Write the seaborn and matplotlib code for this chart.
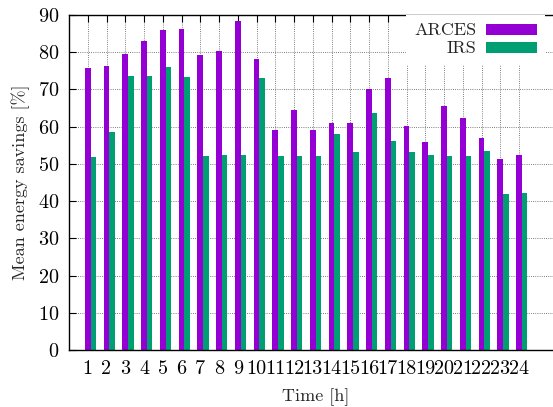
import matplotlib
matplotlib.use("Agg")
import matplotlib.pyplot as plt
import matplotlib.patches as mpatches
import seaborn as sns
import pandas as pd

hours = [str(h) for h in range(1, 25)]
arces = [75.7, 76.4, 79.5, 83.1, 85.9, 86.3, 79.2, 80.2, 88.5, 78.3, 59.0, 64.4,
         59.0, 60.9, 60.9, 70.2, 73.0, 60.2, 55.8, 65.6, 62.4, 56.9, 51.3, 52.5]
irs = [51.8, 58.7, 73.5, 73.6, 76.1, 73.4, 52.1, 52.3, 52.3, 73.1, 52.1, 52.1,
       52.0, 58.0, 53.3, 63.6, 56.1, 53.1, 52.5, 52.1, 52.1, 53.4, 41.9, 42.2]
series = ["ARCES", "IRS"]
colors = ["#9400D3", "#009E73"]
y_ticks = list(range(0, 91, 10))

df = pd.DataFrame({
    "hour": hours * 2,
    "value": arces + irs,
    "series": [series[0]] * len(hours) + [series[1]] * len(hours),
})

sns.set_style("ticks")
plt.rcParams["font.family"] = ["cmr10", "DejaVu Serif"]
plt.rcParams["axes.formatter.use_mathtext"] = True
plt.rcParams["font.size"] = 13

W, H = 553, 407
fig = plt.figure(figsize=(W / 100, H / 100), dpi=100)
ax = fig.add_axes([69 / W, (H - 350) / H, (562 - 69) / W, (350 - 15) / H])

bar_w = 0.6
sns.barplot(data=df, x="hour", y="value", hue="series", hue_order=series,
            palette=colors, saturation=1, width=bar_w, gap=0, linewidth=0,
            errorbar=None, ax=ax, legend=False, zorder=2)

n = len(hours)
tick_pos = [i - bar_w / 4 for i in range(n)]
ax.set_xticks(tick_pos)
ax.set_xticklabels(hours)
ax.set_xlim(tick_pos[0] - 1, tick_pos[0] - 1 + (562 - 69) / 18.75)
ax.set_ylim(0, 90)
ax.set_yticks(y_ticks)

ax.grid(True, color="#555555", linestyle=(0, (1, 1.6)), linewidth=0.6, zorder=0)
ax.set_axisbelow(True)
ax.tick_params(direction="in", length=5, width=0.8, top=True, right=False,
               labelsize=14.5, pad=7, colors="black")
for s in ax.spines.values():
    s.set_linewidth(1.0)
    s.set_color("black")
ax.spines["right"].set_visible(False)

ax.set_xlabel("Time [h]", fontsize=13, labelpad=8)
ax.set_ylabel("Mean energy savings [%]", fontsize=13, labelpad=6)

handles = [mpatches.Patch(facecolor=c, edgecolor="none") for c in colors]
leg = ax.legend(handles, series, loc="upper right",
                bbox_to_anchor=(545 / W, (H - 15) / H),
                bbox_transform=fig.transFigure, borderaxespad=0,
                markerfirst=False, frameon=True, fancybox=False,
                framealpha=1, edgecolor="none", facecolor="white",
                handlelength=2.8, handleheight=0.55, handletextpad=0.55,
                labelspacing=0.15, borderpad=0.45, fontsize=13)
leg.get_frame().set_linewidth(0)

fig.savefig("out.png", dpi=100)
